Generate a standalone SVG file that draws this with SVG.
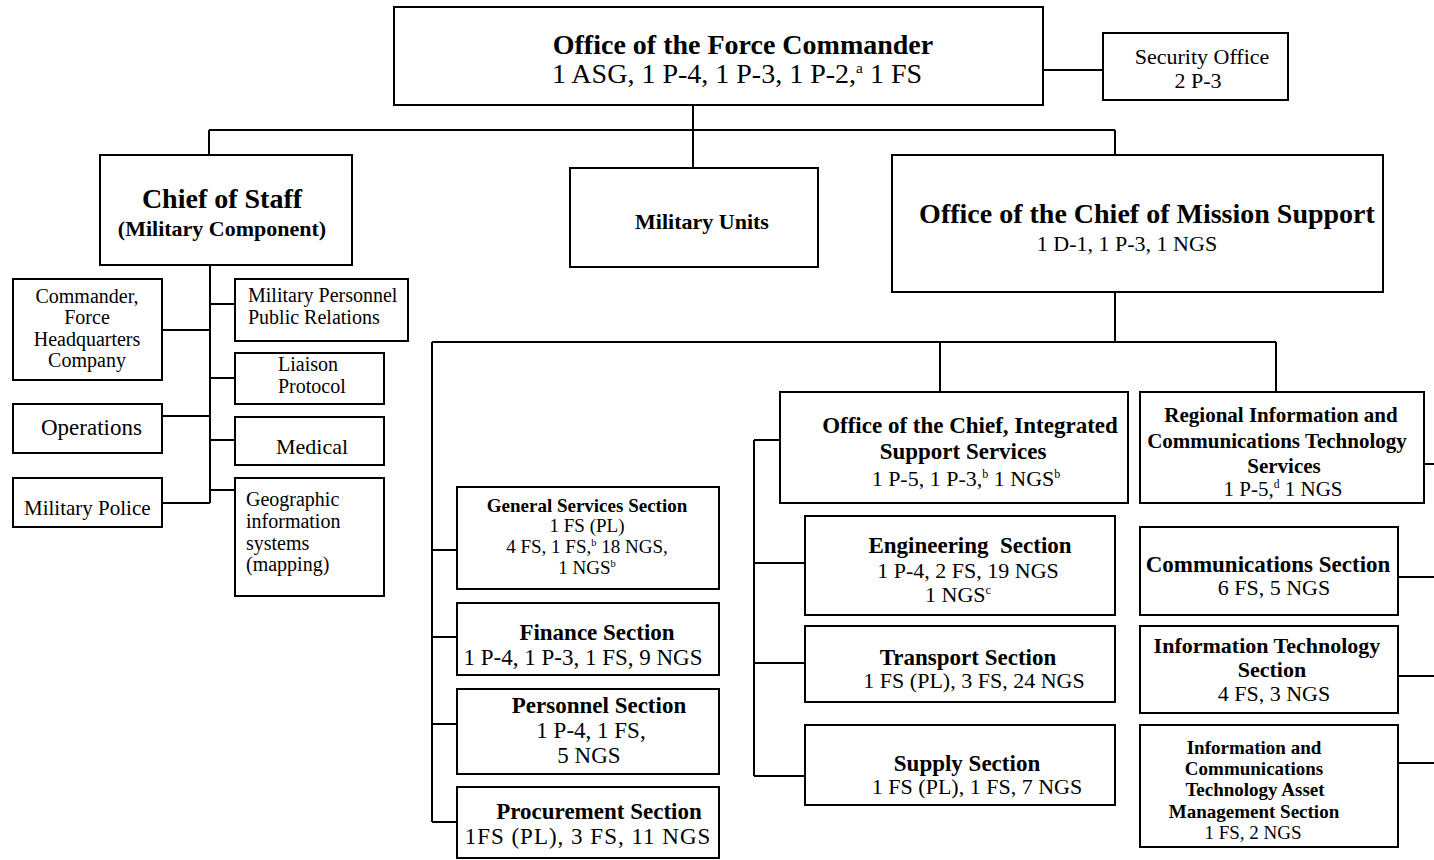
<svg xmlns="http://www.w3.org/2000/svg" width="1434" height="860" viewBox="0 0 1434 860">
<style>
.b{fill:#fff;stroke:#000;stroke-width:2}
.c line{stroke:#000;stroke-width:2}
text{font-family:"Liberation Serif","Times New Roman",serif;fill:#000}
.m{text-anchor:middle}
.bd{font-weight:bold}
.sp{font-size:55%}
</style>
<rect width="1434" height="860" fill="#fff"/>
<g id="connectors" class="c">
<line x1="1043" y1="70" x2="1103" y2="70"/>
<line x1="693" y1="105" x2="693" y2="130"/>
<line x1="209" y1="130" x2="1115" y2="130"/>
<line x1="209" y1="130" x2="209" y2="155"/>
<line x1="693" y1="130" x2="693" y2="168"/>
<line x1="1115" y1="130" x2="1115" y2="155"/>
<line x1="210" y1="265" x2="210" y2="503"/>
<line x1="162" y1="330" x2="210" y2="330"/>
<line x1="162" y1="416" x2="210" y2="416"/>
<line x1="162" y1="503" x2="210" y2="503"/>
<line x1="210" y1="304" x2="235" y2="304"/>
<line x1="210" y1="378" x2="235" y2="378"/>
<line x1="210" y1="440" x2="235" y2="440"/>
<line x1="210" y1="490" x2="235" y2="490"/>
<line x1="1115" y1="292" x2="1115" y2="342"/>
<line x1="432" y1="342" x2="1276" y2="342"/>
<line x1="432" y1="342" x2="432" y2="822"/>
<line x1="432" y1="550" x2="457" y2="550"/>
<line x1="432" y1="637" x2="457" y2="637"/>
<line x1="432" y1="724" x2="457" y2="724"/>
<line x1="432" y1="822" x2="457" y2="822"/>
<line x1="940" y1="342" x2="940" y2="392"/>
<line x1="1276" y1="342" x2="1276" y2="392"/>
<line x1="754" y1="440" x2="780" y2="440"/>
<line x1="754" y1="440" x2="754" y2="776"/>
<line x1="754" y1="563" x2="805" y2="563"/>
<line x1="754" y1="663" x2="805" y2="663"/>
<line x1="754" y1="776" x2="805" y2="776"/>
<line x1="1424" y1="464" x2="1434" y2="464"/>
<line x1="1398" y1="577" x2="1434" y2="577"/>
<line x1="1398" y1="676" x2="1434" y2="676"/>
<line x1="1398" y1="763" x2="1434" y2="763"/>
</g>
<g id="force-commander">
<rect class="b" x="394" y="7" width="649" height="98"/>
<text class="m bd" x="743" y="54" font-size="28">Office of the Force Commander</text>
<text class="m" x="737" y="83" font-size="28">1 ASG, 1 P-4, 1 P-3, 1 P-2,<tspan class="sp" dy="-10">a</tspan><tspan dy="10"> 1 FS</tspan></text>
</g>
<g id="security">
<rect class="b" x="1103" y="33" width="185" height="67"/>
<text class="m" x="1202" y="64" font-size="22">Security Office</text>
<text class="m" x="1198" y="88" font-size="22">2 P-3</text>
</g>
<g id="chief-of-staff">
<rect class="b" x="100" y="155" width="252" height="110"/>
<text class="m bd" x="222" y="208" font-size="28">Chief of Staff</text>
<text class="m bd" x="222" y="236" font-size="22">(Military Component)</text>
</g>
<g id="military-units">
<rect class="b" x="570" y="168" width="248" height="99"/>
<text class="m bd" x="702" y="229" font-size="22">Military Units</text>
</g>
<g id="mission-support">
<rect class="b" x="892" y="155" width="491" height="137"/>
<text class="m bd" x="1147" y="223" font-size="28">Office of the Chief of Mission Support</text>
<text class="m" x="1127" y="251" font-size="22">1 D-1, 1 P-3, 1 NGS</text>
</g>
<g id="commander-hq">
<rect class="b" x="13" y="279" width="149" height="101"/>
<text class="m" x="87" y="303" font-size="20">Commander,</text>
<text class="m" x="87" y="324" font-size="20">Force</text>
<text class="m" x="87" y="346" font-size="20">Headquarters</text>
<text class="m" x="87" y="367" font-size="20">Company</text>
</g>
<g id="operations">
<rect class="b" x="13" y="404" width="149" height="49"/>
<text x="41" y="435" font-size="23">Operations</text>
</g>
<g id="military-police">
<rect class="b" x="13" y="478" width="149" height="49"/>
<text x="24" y="515" font-size="21">Military Police</text>
</g>
<g id="personnel-pr">
<rect class="b" x="235" y="279" width="173" height="62"/>
<text x="248" y="302" font-size="20">Military Personnel</text>
<text x="248" y="324" font-size="20">Public Relations</text>
</g>
<g id="liaison">
<rect class="b" x="235" y="353" width="149" height="51"/>
<text x="278" y="371" font-size="20">Liaison</text>
<text x="278" y="393" font-size="20">Protocol</text>
</g>
<g id="medical">
<rect class="b" x="235" y="417" width="149" height="48"/>
<text x="276" y="454" font-size="22">Medical</text>
</g>
<g id="gis">
<rect class="b" x="235" y="478" width="149" height="118"/>
<text x="246" y="506" font-size="20">Geographic</text>
<text x="246" y="528" font-size="20">information</text>
<text x="246" y="550" font-size="20">systems</text>
<text x="246" y="571" font-size="20">(mapping)</text>
</g>
<g id="general-services">
<rect class="b" x="457" y="487" width="262" height="102"/>
<text class="m bd" x="587" y="512" font-size="19">General Services Section</text>
<text class="m" x="587" y="532" font-size="19">1 FS (PL)</text>
<text class="m" x="587" y="553" font-size="19">4 FS, 1 FS,<tspan class="sp" dy="-7">b</tspan><tspan dy="7"> 18 NGS,</tspan></text>
<text class="m" x="587" y="574" font-size="19">1 NGS<tspan class="sp" dy="-7">b</tspan></text>
</g>
<g id="finance">
<rect class="b" x="457" y="603" width="262" height="72"/>
<text class="m bd" x="597" y="640" font-size="23">Finance Section</text>
<text class="m" x="583" y="665" font-size="23">1 P-4, 1 P-3, 1 FS, 9 NGS</text>
</g>
<g id="personnel">
<rect class="b" x="457" y="689" width="262" height="85"/>
<text class="m bd" x="599" y="713" font-size="23">Personnel Section</text>
<text class="m" x="591" y="738" font-size="23">1 P-4, 1 FS,</text>
<text class="m" x="589" y="763" font-size="23">5 NGS</text>
</g>
<g id="procurement">
<rect class="b" x="457" y="787" width="262" height="71"/>
<text class="m bd" x="599" y="819" font-size="23">Procurement Section</text>
<text class="m" x="588" y="844" font-size="23" letter-spacing="1">1FS (PL), 3 FS, 11 NGS</text>
</g>
<g id="integrated-support">
<rect class="b" x="780" y="392" width="348" height="111"/>
<text class="m bd" x="970" y="433" font-size="23">Office of the Chief, Integrated</text>
<text class="m bd" x="963" y="459" font-size="23">Support Services</text>
<text class="m" x="966" y="486" font-size="22">1 P-5, 1 P-3,<tspan class="sp" dy="-8">b</tspan><tspan dy="8"> 1 NGS</tspan><tspan class="sp" dy="-8">b</tspan></text>
</g>
<g id="engineering">
<rect class="b" x="805" y="516" width="310" height="99"/>
<text class="m bd" x="970" y="553" font-size="23" style="white-space:pre">Engineering  Section</text>
<text class="m" x="968" y="578" font-size="22">1 P-4, 2 FS, 19 NGS</text>
<text class="m" x="958" y="602" font-size="22">1 NGS<tspan class="sp" dy="-8">c</tspan></text>
</g>
<g id="transport">
<rect class="b" x="805" y="626" width="310" height="76"/>
<text class="m bd" x="968" y="665" font-size="23">Transport Section</text>
<text class="m" x="974" y="688" font-size="22">1 FS (PL), 3 FS, 24 NGS</text>
</g>
<g id="supply">
<rect class="b" x="805" y="725" width="310" height="80"/>
<text class="m bd" x="967" y="771" font-size="23">Supply Section</text>
<text class="m" x="977" y="794" font-size="22">1 FS (PL), 1 FS, 7 NGS</text>
</g>
<g id="regional-ict">
<rect class="b" x="1140" y="392" width="284" height="111"/>
<text class="m bd" x="1281" y="422" font-size="21">Regional Information and</text>
<text class="m bd" x="1277" y="448" font-size="21">Communications Technology</text>
<text class="m bd" x="1284" y="473" font-size="21">Services</text>
<text class="m" x="1283" y="496" font-size="21">1 P-5,<tspan class="sp" dy="-8">d</tspan><tspan dy="8"> 1 NGS</tspan></text>
</g>
<g id="communications">
<rect class="b" x="1140" y="527" width="258" height="88"/>
<text class="m bd" x="1268" y="572" font-size="23">Communications Section</text>
<text class="m" x="1274" y="595" font-size="22">6 FS, 5 NGS</text>
</g>
<g id="information-technology">
<rect class="b" x="1140" y="626" width="258" height="87"/>
<text class="m bd" x="1267" y="653" font-size="22">Information Technology</text>
<text class="m bd" x="1272" y="677" font-size="22">Section</text>
<text class="m" x="1274" y="701" font-size="22">4 FS, 3 NGS</text>
</g>
<g id="ict-asset">
<rect class="b" x="1140" y="725" width="258" height="122"/>
<text class="m bd" x="1254" y="754" font-size="19">Information and</text>
<text class="m bd" x="1254" y="775" font-size="19">Communications</text>
<text class="m bd" x="1255" y="796" font-size="19">Technology Asset</text>
<text class="m bd" x="1254" y="818" font-size="19">Management Section</text>
<text class="m" x="1253" y="839" font-size="19">1 FS, 2 NGS</text>
</g>
</svg>
